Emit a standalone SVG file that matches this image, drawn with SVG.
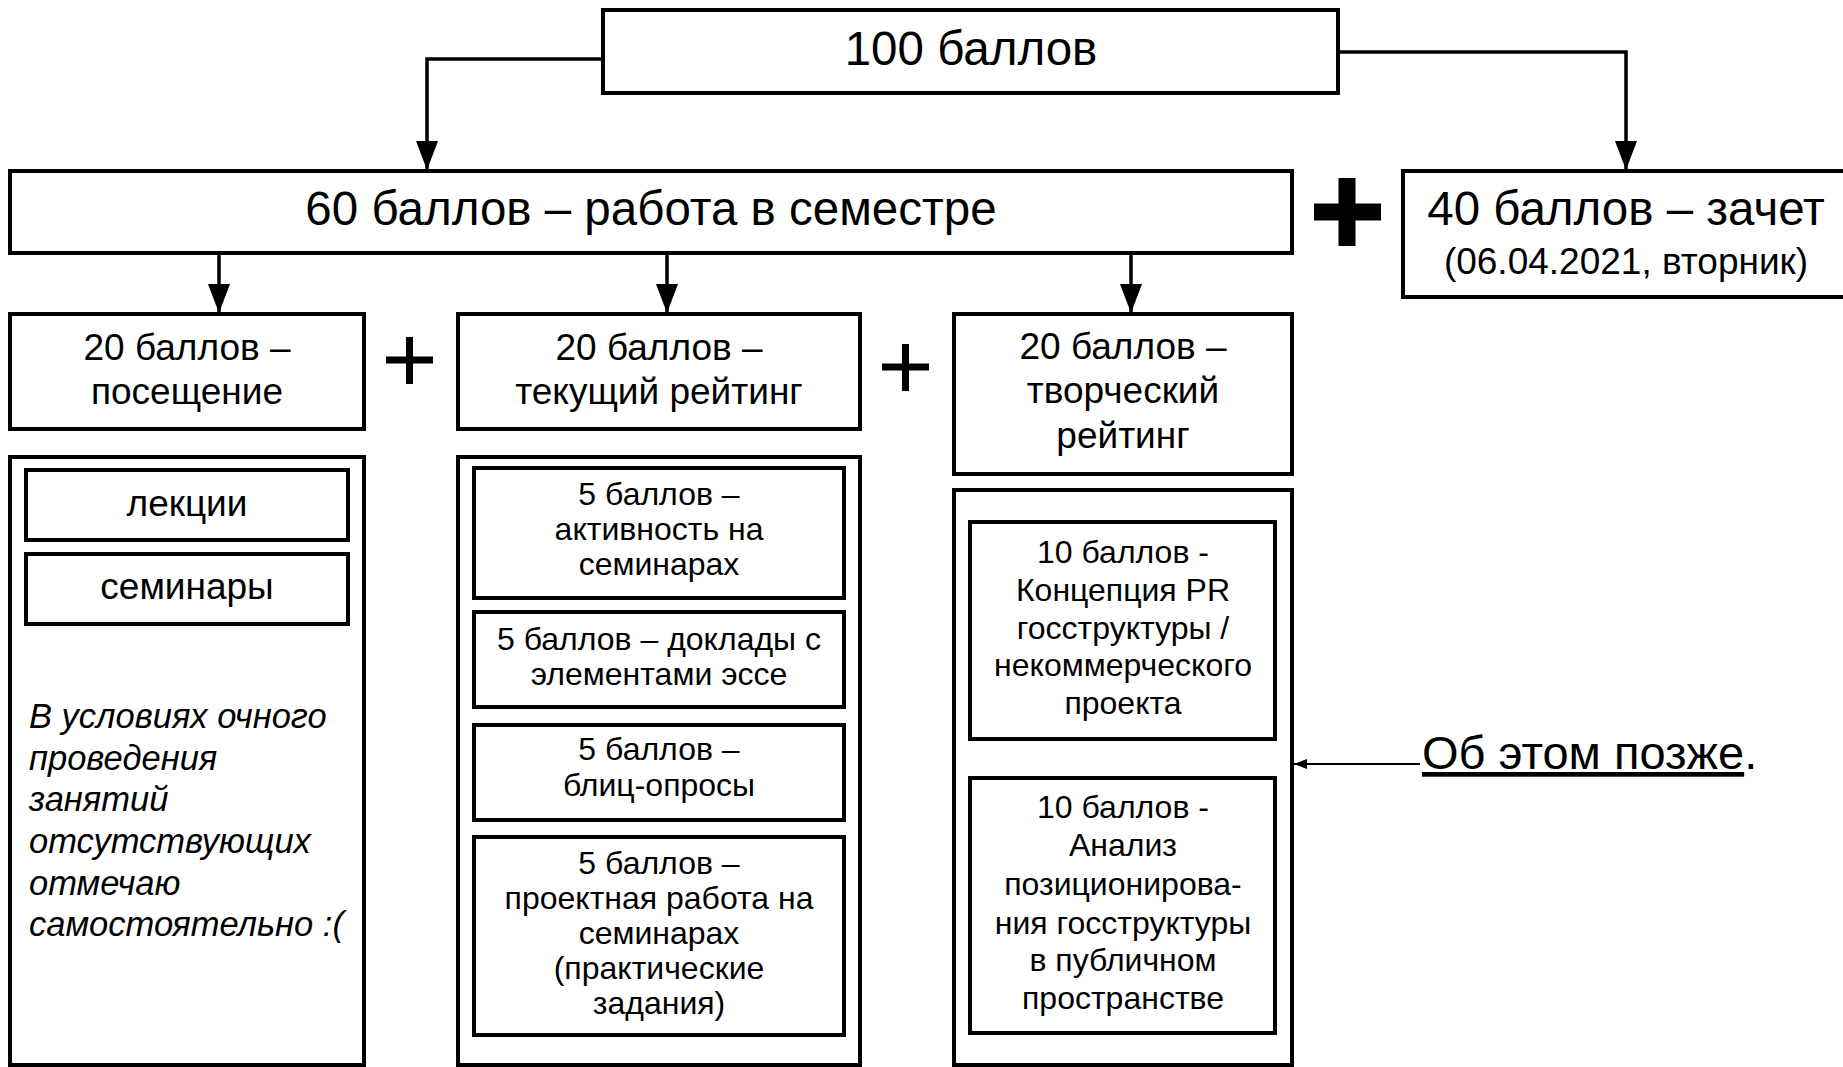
<svg xmlns="http://www.w3.org/2000/svg" width="1843" height="1067" viewBox="0 0 1843 1067">
<style>
.box{fill:#fff;stroke:#000;stroke-width:4}
.t{font-family:"Liberation Sans",Arial,sans-serif;text-anchor:middle;fill:#000}
.big{font-size:47.5px}
.mid{font-size:37px}
.sm{font-size:32px}
.it{font-family:"Liberation Sans",Arial,sans-serif;font-style:italic;font-size:34.5px;fill:#000}
.conn{fill:none;stroke:#000;stroke-width:3.5}
.thin{fill:none;stroke:#000;stroke-width:2}
.plus{fill:none;stroke:#000}
</style>
<defs>
<marker id="ah" markerUnits="userSpaceOnUse" markerWidth="30" markerHeight="22" refX="29" refY="11" orient="auto">
<path d="M0,0 L29,11 L0,22 z" fill="#000"/>
</marker>
<marker id="ahs" markerUnits="userSpaceOnUse" markerWidth="14" markerHeight="10" refX="13" refY="5" orient="auto">
<path d="M0,0 L13,5 L0,10 z" fill="#000"/>
</marker>
</defs>
<rect width="1843" height="1067" fill="#fff"/>

<g id="connectors">
<path class="conn" d="M603,59 H427 V170" marker-end="url(#ah)"/>
<path class="conn" d="M1338,52 H1626 V170" marker-end="url(#ah)"/>
<path class="conn" d="M219,253 V313" marker-end="url(#ah)"/>
<path class="conn" d="M667,253 V313" marker-end="url(#ah)"/>
<path class="conn" d="M1131,253 V313" marker-end="url(#ah)"/>
<path class="thin" d="M1420,764 H1294" marker-end="url(#ahs)"/>
</g>

<g id="n100">
<rect class="box" x="603" y="10" width="735" height="83"/>
<text class="t big" x="971" y="65">100 баллов</text>
</g>

<g id="n60">
<rect class="box" x="10" y="171" width="1282" height="82"/>
<text class="t big" x="651" y="225">60 баллов – работа в семестре</text>
</g>

<g id="plusBig">
<path class="plus" stroke-width="17" d="M1314,212 H1381 M1347,178 V246"/>
</g>

<g id="n40">
<rect class="box" x="1403" y="171" width="460" height="126"/>
<text class="t big" x="1626" y="225">40 баллов – зачет</text>
<text class="t" style="font-size:37px" x="1626" y="274">(06.04.2021, вторник)</text>
</g>

<g id="nPos">
<rect class="box" x="10" y="314" width="354" height="115"/>
<text class="t mid" x="187" y="360">20 баллов –</text>
<text class="t mid" x="187" y="404">посещение</text>
</g>

<g id="plus1">
<path class="plus" stroke-width="7" d="M386,360 H433 M409.5,337 V384"/>
</g>

<g id="nTek">
<rect class="box" x="458" y="314" width="402" height="115"/>
<text class="t mid" x="659" y="360">20 баллов –</text>
<text class="t mid" x="659" y="404">текущий рейтинг</text>
</g>

<g id="plus2">
<path class="plus" stroke-width="7" d="M882,367 H929 M905.5,344 V391"/>
</g>

<g id="nTvor">
<rect class="box" x="954" y="314" width="338" height="160"/>
<text class="t mid" x="1123" y="359">20 баллов –</text>
<text class="t mid" x="1123" y="403">творческий</text>
<text class="t mid" x="1123" y="448">рейтинг</text>
</g>

<g id="colPos">
<rect class="box" x="10" y="457" width="354" height="608"/>
</g>
<g id="nLek">
<rect class="box" x="26" y="470" width="322" height="70"/>
<text class="t mid" x="187" y="516">лекции</text>
</g>
<g id="nSem">
<rect class="box" x="26" y="554" width="322" height="70"/>
<text class="t mid" x="187" y="599">семинары</text>
</g>
<g id="noteAttend">
<text class="it" x="29" y="728">В условиях очного</text>
<text class="it" x="29" y="770">проведения</text>
<text class="it" x="29" y="811">занятий</text>
<text class="it" x="29" y="853">отсутствующих</text>
<text class="it" x="29" y="895">отмечаю</text>
<text class="it" x="29" y="936">самостоятельно :(</text>
</g>

<g id="colTek">
<rect class="box" x="458" y="457" width="402" height="608"/>
</g>
<g id="nAkt">
<rect class="box" x="474" y="468" width="370" height="130"/>
<text class="t sm" x="659" y="505">5 баллов –</text>
<text class="t sm" x="659" y="540">активность на</text>
<text class="t sm" x="659" y="575">семинарах</text>
</g>
<g id="nDokl">
<rect class="box" x="474" y="612" width="370" height="95"/>
<text class="t sm" x="659" y="650">5 баллов – доклады с</text>
<text class="t sm" x="659" y="685">элементами эссе</text>
</g>
<g id="nBlic">
<rect class="box" x="474" y="725" width="370" height="95"/>
<text class="t sm" x="659" y="760">5 баллов –</text>
<text class="t sm" x="659" y="796">блиц-опросы</text>
</g>
<g id="nProj">
<rect class="box" x="474" y="837" width="370" height="198"/>
<text class="t sm" x="659" y="874">5 баллов –</text>
<text class="t sm" x="659" y="909">проектная работа на</text>
<text class="t sm" x="659" y="944">семинарах</text>
<text class="t sm" x="659" y="979">(практические</text>
<text class="t sm" x="659" y="1014">задания)</text>
</g>

<g id="colTvor">
<rect class="box" x="954" y="490" width="338" height="575"/>
</g>
<g id="nKonc">
<rect class="box" x="970" y="522" width="305" height="217"/>
<text class="t sm" x="1123" y="563">10 баллов -</text>
<text class="t sm" x="1123" y="601">Концепция PR</text>
<text class="t sm" x="1123" y="639">госструктуры /</text>
<text class="t sm" x="1123" y="676">некоммерческого</text>
<text class="t sm" x="1123" y="714">проекта</text>
</g>
<g id="nAnal">
<rect class="box" x="970" y="778" width="305" height="255"/>
<text class="t sm" x="1123" y="818">10 баллов -</text>
<text class="t sm" x="1123" y="856">Анализ</text>
<text class="t sm" x="1123" y="895">позиционирова-</text>
<text class="t sm" x="1123" y="934">ния госструктуры</text>
<text class="t sm" x="1123" y="971">в публичном</text>
<text class="t sm" x="1123" y="1009">пространстве</text>
</g>

<g id="noteLater">
<text style="font-family:'Liberation Sans',Arial,sans-serif;font-size:47px;fill:#000" x="1422" y="769"><tspan text-decoration="underline">Об этом позже</tspan>.</text>
</g>
</svg>
